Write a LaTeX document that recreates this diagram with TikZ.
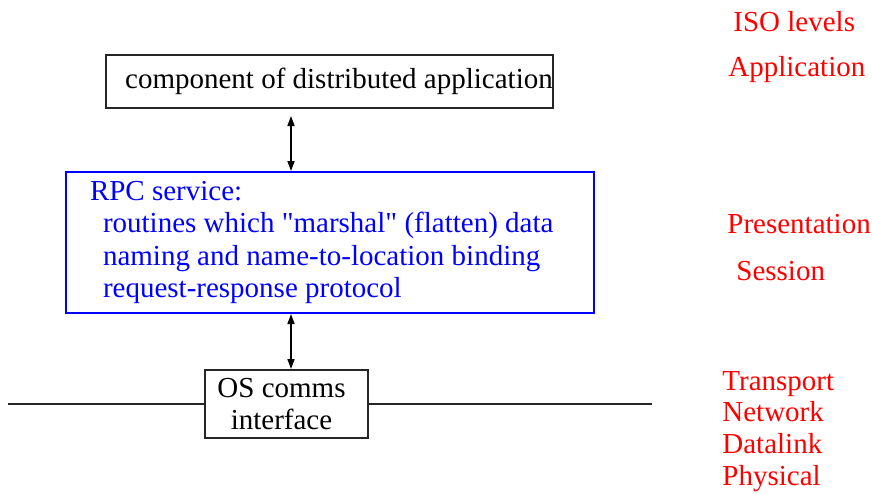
\documentclass[tikz,border=0pt]{standalone}
\usepackage{fontspec}
\setmainfont{Liberation Serif}[Ligatures=TeXOff]
\usetikzlibrary{arrows.meta,positioning}
\tikzset{
  txt/.style={font=\fontsize{14.5pt}{16.25pt}\selectfont},
  box/.style={draw=black!85, line width=1pt, txt, inner sep=0pt},
  level/.style={txt, text=red, anchor=base west, inner sep=0pt},
  link/.style={{Triangle[length=5pt,width=3.5pt]}-{Triangle[length=5pt,width=3.5pt]}, line width=0.8pt},
}
\begin{document}
\begin{tikzpicture}[x=0.5pt,y=-0.5pt]
        \useasboundingbox (0,0) rectangle (872,493);
        % the three layers on the left
        \node[box, minimum width=223.5pt, minimum height=26.5pt] (app) at (329.5,81.5)
                {\hspace*{9.5pt}component of distributed application};
        \node[box, draw=blue, text=blue, align=left, text width=240pt,
              minimum height=70.5pt, inner xsep=12pt] (rpc) at (330,242.5)
                {\spaceskip=0.25em\relax RPC service:\\
                 \hspace*{6.5pt}routines which "marshal" (flatten) data\\
                 \hspace*{6.5pt}naming and name-to-location binding\\
                 \hspace*{6.5pt}request-response protocol};
        \node[box, align=center, minimum width=81.5pt, minimum height=34pt] (os) at (286.5,404)
                {OS comms\hspace*{5pt}\\interface\hspace*{5pt}};
        % network line
        \coordinate (netL) at (8,404);
        \coordinate (netR) at (652,404);
        \draw[black!85, line width=1pt] (netL) -- (os.west);
        \draw[black!85, line width=1pt] (os.east) -- (netR);
        % arrows between layers
        \draw[link, shorten <=3.5pt] ([xshift=-19.25pt]app.south) -- ([xshift=-19.5pt]rpc.north);
        \draw[link] ([xshift=-19.5pt]rpc.south) -- ([xshift=2.25pt]os.north);
        % ISO levels
        \node[level] (iso) at (733,31.7) {ISO levels};
        \node[level] (lapp) at (728,76.7) {Application};
        \node[level] (lpres) at (727,233) {Presentation};
        \node[level] (lsess) at (736,280) {Session};
        \foreach \name/\y/\lab in {ltrans/390/Transport, lnet/421.7/Network, ldata/453/Datalink, lphys/485/Physical} {
                \node[level] (\name) at (722,\y) {\lab};
            }
    \end{tikzpicture}
\end{document}
